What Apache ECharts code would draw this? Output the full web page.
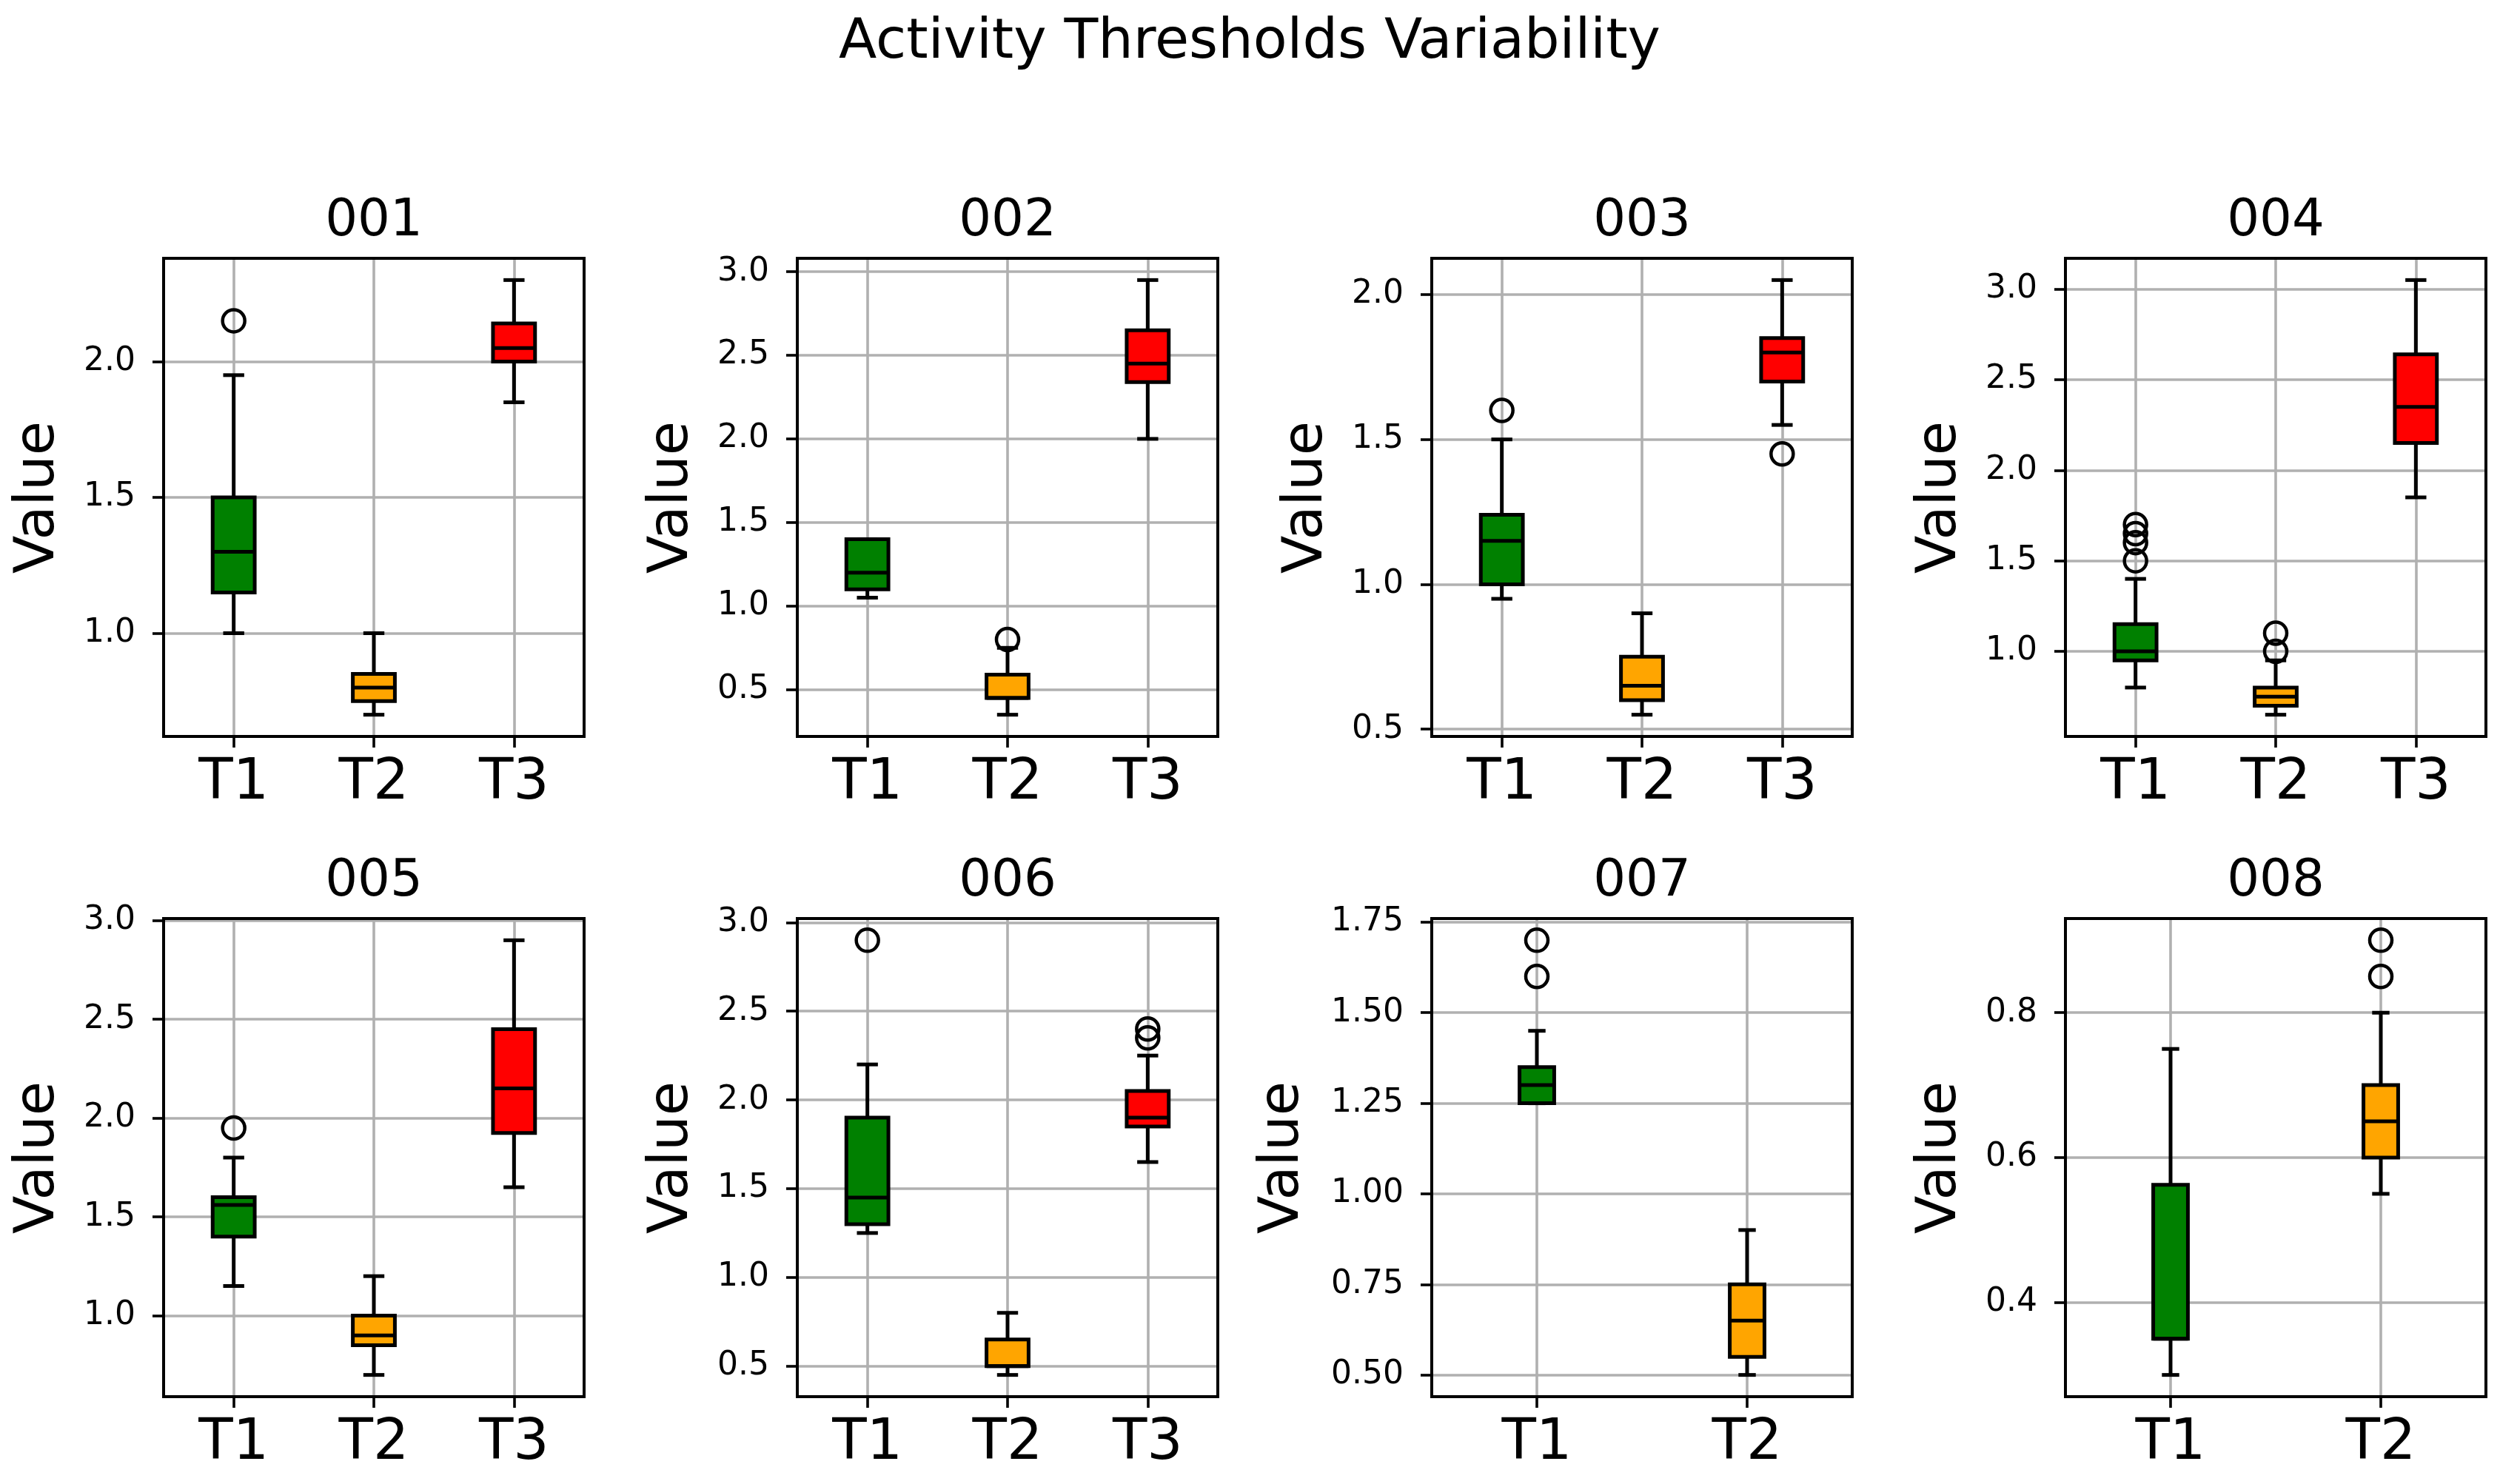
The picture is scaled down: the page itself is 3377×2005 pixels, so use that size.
<!DOCTYPE html>
<html>
<head>
<meta charset="utf-8">
<script src="https://cdn.jsdelivr.net/npm/echarts@6/dist/echarts.min.js"></script>
<style>
html, body { margin: 0; padding: 0; background: #fff; }
#chart { width: 3377px; height: 2005px; }
</style>
</head>
<body>
<div id="chart"></div>
<script>
const panelNames = ['001', '002', '003', '004', '005', '006', '007', '008'];
const cats3 = ['T1', 'T2', 'T3'];
const cats2 = ['T1', 'T2'];
const boxColors = ['#008000', '#ffa500', '#ff0000'];

// one row per threshold: [low whisker, Q1, median, Q3, high whisker]
const box001 = [[1.0, 1.15, 1.3, 1.5, 1.95], [0.7, 0.75, 0.8, 0.85, 1.0], [1.85, 2.0, 2.05, 2.14, 2.3]];
const box002 = [[1.05, 1.1, 1.2, 1.4, 1.4], [0.35, 0.45, 0.45, 0.59, 0.75], [2.0, 2.34, 2.45, 2.65, 2.95]];
const box003 = [[0.95, 1.0, 1.15, 1.24, 1.5], [0.55, 0.6, 0.65, 0.75, 0.9], [1.55, 1.7, 1.8, 1.85, 2.05]];
const box004 = [[0.8, 0.95, 1.0, 1.15, 1.4], [0.65, 0.7, 0.75, 0.8, 0.95], [1.85, 2.15, 2.35, 2.64, 3.05]];
const box005 = [[1.15, 1.4, 1.56, 1.6, 1.8], [0.7, 0.85, 0.9, 1.0, 1.2], [1.65, 1.925, 2.15, 2.45, 2.9]];
const box006 = [[1.25, 1.3, 1.45, 1.9, 2.2], [0.45, 0.5, 0.5, 0.65, 0.8], [1.65, 1.85, 1.9, 2.05, 2.25]];
const box007 = [[1.25, 1.25, 1.3, 1.35, 1.45], [0.5, 0.55, 0.65, 0.75, 0.9]];
const box008 = [[0.3, 0.35, 0.35, 0.5625, 0.75], [0.55, 0.6, 0.65, 0.7, 0.8]];

// outliers: [threshold index, value]
const out001 = [[0, 2.15]];
const out002 = [[1, 0.8]];
const out003 = [[0, 1.6], [2, 1.45]];
const out004 = [[0, 1.5], [0, 1.6], [0, 1.65], [0, 1.7], [1, 1.0], [1, 1.1]];
const out005 = [[0, 1.95]];
const out006 = [[0, 2.9], [2, 2.35], [2, 2.4]];
const out007 = [[0, 1.6], [0, 1.7]];
const out008 = [[1, 0.85], [1, 0.9]];

// y tick values
const ticks001 = [1.0, 1.5, 2.0];
const ticks002 = [0.5, 1.0, 1.5, 2.0, 2.5, 3.0];
const ticks003 = [0.5, 1.0, 1.5, 2.0];
const ticks004 = [1.0, 1.5, 2.0, 2.5, 3.0];
const ticks005 = [1.0, 1.5, 2.0, 2.5, 3.0];
const ticks006 = [0.5, 1.0, 1.5, 2.0, 2.5, 3.0];
const ticks007 = [0.5, 0.75, 1.0, 1.25, 1.5, 1.75];
const ticks008 = [0.4, 0.6, 0.8];
const tickDigits = [1, 1, 1, 1, 1, 1, 2, 1];

const boxes = [box001, box002, box003, box004, box005, box006, box007, box008];
const outliers = [out001, out002, out003, out004, out005, out006, out007, out008];
const ticks = [ticks001, ticks002, ticks003, ticks004, ticks005, ticks006, ticks007, ticks008];

const FONT = 'DejaVu Sans';
const colLeft = [221, 1077, 1934, 2790];
const rowTop = [349, 1241];
const gw = 568, gh = 646;
const nameGaps = [131, 131, 131, 131, 131, 131, 163, 131];

const chart = echarts.init(document.getElementById('chart'));

function renderBox(frac) {
    return function (params, api) {
        const i = api.value(0);
        const w = api.size([1, 0])[0] * frac;
        const lo = api.coord([i, api.value(1)]);
        const q1 = api.coord([i, api.value(2)]);
        const md = api.coord([i, api.value(3)]);
        const q3 = api.coord([i, api.value(4)]);
        const hi = api.coord([i, api.value(5)]);
        const cx = lo[0];
        const ls = {stroke: '#000', lineWidth: 5};
        return {
            type: 'group',
            children: [
                {type: 'line', shape: {x1: cx, y1: lo[1], x2: cx, y2: q1[1]}, style: ls},
                {type: 'line', shape: {x1: cx, y1: q3[1], x2: cx, y2: hi[1]}, style: ls},
                {type: 'line', shape: {x1: cx - w / 4, y1: lo[1], x2: cx + w / 4, y2: lo[1]}, style: ls},
                {type: 'line', shape: {x1: cx - w / 4, y1: hi[1], x2: cx + w / 4, y2: hi[1]}, style: ls},
                {type: 'rect', shape: {x: cx - w / 2, y: q3[1], width: w, height: q1[1] - q3[1]},
                    style: {fill: boxColors[i], stroke: '#000', lineWidth: 5}},
                {type: 'line', shape: {x1: cx - w / 2, y1: md[1], x2: cx + w / 2, y2: md[1]}, style: ls}
            ]
        };
    };
}

let grids = [], xAxes = [], yAxes = [], series = [];
let titles = [{
    text: 'Activity Thresholds Variability',
    left: 1688, top: 21, textAlign: 'center', padding: 0,
    textStyle: {fontSize: 75, fontWeight: 'normal', color: '#000', fontFamily: FONT}
}];

panelNames.forEach((name, p) => {
    const left = colLeft[p % 4];
    const top = rowTop[Math.floor(p / 4)];
    const cats = boxes[p].length === 3 ? cats3 : cats2;

    // matplotlib style auto range: data extent plus 5% margin
    let vals = [];
    boxes[p].forEach(b => vals.push(...b));
    outliers[p].forEach(o => vals.push(o[1]));
    const lo = Math.min(...vals), hi = Math.max(...vals);
    const pad = (hi - lo) * 0.05;

    grids.push({
        left: left, top: top, width: gw, height: gh,
        show: true, borderColor: '#000', borderWidth: 4,
        backgroundColor: 'transparent', z: 10,
        containLabel: false, outerBoundsMode: 'none'
    });
    titles.push({
        text: name, left: left + gw / 2, top: top - 83, textAlign: 'center', padding: 0,
        textStyle: {fontSize: 69, fontWeight: 'normal', color: '#000', fontFamily: FONT}
    });
    xAxes.push({
        type: 'category', gridIndex: p, data: cats, z: 10,
        axisLine: {show: false},
        axisTick: {show: true, inside: false, alignWithLabel: true, length: 15,
            lineStyle: {color: '#000', width: 3.6}},
        axisLabel: {fontSize: 76, color: '#000', fontFamily: FONT, margin: 26, interval: 0},
        splitLine: {show: false}
    });
    yAxes.push({
        type: 'value', gridIndex: p, min: lo - pad, max: hi + pad, z: 10,
        name: 'Value', nameLocation: 'middle', nameRotate: 90, nameGap: nameGaps[p],
        nameTextStyle: {fontSize: 75, color: '#000', fontFamily: FONT},
        axisLine: {show: false},
        axisTick: {show: true, inside: false, length: 15, customValues: ticks[p],
            lineStyle: {color: '#000', width: 3.6}},
        axisLabel: {fontSize: 44, color: '#000', fontFamily: FONT, margin: 38,
            customValues: ticks[p],
            formatter: v => Number(v).toFixed(tickDigits[p])},
        splitLine: {show: false}
    });
    series.push({
        type: 'custom', xAxisIndex: p, yAxisIndex: p, z: 2, clip: false,
        renderItem: renderBox(cats.length === 3 ? 0.3 : 0.165),
        encode: {x: 0, y: [1, 2, 3, 4, 5]},
        data: boxes[p].map((b, i) => [i].concat(b))
    });
    series.push({
        type: 'scatter', xAxisIndex: p, yAxisIndex: p, z: 3,
        symbol: 'circle', symbolSize: 30,
        itemStyle: {color: 'rgba(0,0,0,0)', borderColor: '#000', borderWidth: 4.5, opacity: 1},
        data: outliers[p],
        markLine: {
            silent: true, symbol: 'none', z: 1, animation: false,
            label: {show: false},
            lineStyle: {color: '#b0b0b0', width: 3.6, type: 'solid', opacity: 1},
            emphasis: {disabled: true},
            data: ticks[p].map(v => ({yAxis: v})).concat(cats.map(c => ({xAxis: c})))
        }
    });
});

chart.setOption({
    backgroundColor: '#fff',
    animation: false,
    title: titles,
    grid: grids,
    xAxis: xAxes,
    yAxis: yAxes,
    series: series
});
</script>
</body>
</html>
